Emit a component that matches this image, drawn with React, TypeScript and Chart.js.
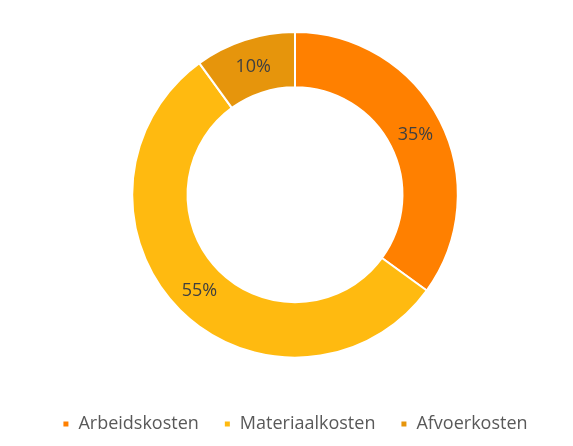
import { useEffect, useRef } from "react";
import { Chart, registerables, Plugin } from "chart.js";

Chart.register(...registerables);

const categories = ["Arbeidskosten", "Materiaalkosten", "Afvoerkosten"];
const shares = [35, 55, 10];
const sliceColors = ["#FF8000", "#FFBA10", "#E6950C"];

const FONT = "'Open Sans', 'Liberation Sans', sans-serif";

// draws "35%" etc. at the middle of each arc
const sliceLabels: Plugin<"doughnut"> = {
  id: "sliceLabels",
  afterDatasetsDraw(chart) {
    const { ctx } = chart;
    const meta = chart.getDatasetMeta(0);
    ctx.save();
    ctx.font = `18px ${FONT}`;
    ctx.fillStyle = "#404040";
    ctx.textAlign = "center";
    ctx.textBaseline = "middle";
    meta.data.forEach((arc, i) => {
      const { x, y } = arc.tooltipPosition(false);
      ctx.fillText(`${shares[i]}%`, x, y + 1);
    });
    ctx.restore();
  },
};

export default function App() {
  const canvasRef = useRef<HTMLCanvasElement>(null);

  useEffect(() => {
    if (!canvasRef.current) return;
    const chart = new Chart(canvasRef.current, {
      type: "doughnut",
      data: {
        labels: categories,
        datasets: [
          {
            data: shares,
            backgroundColor: sliceColors,
            borderColor: "#FFFFFF",
            borderWidth: 2,
          },
        ],
      },
      options: {
        responsive: false,
        animation: false,
        cutout: "66%",
        layout: { padding: { top: 31, left: 17, bottom: 3 } },
        plugins: {
          tooltip: { enabled: false },
          legend: {
            position: "bottom",
            // empty title only adds the gap above the legend row
            title: { display: true, text: "", padding: { top: 0, bottom: 17 } },
            labels: {
              boxWidth: 7,
              boxHeight: 7,
              padding: 25,
              color: "#595959",
              font: { family: FONT, size: 18 },
            },
          },
        },
      },
      plugins: [sliceLabels],
    });
    return () => chart.destroy();
  }, []);

  return (
    <div style={{ position: "absolute", left: 0, top: 0, width: 573, height: 446, background: "#fff" }}>
      <canvas ref={canvasRef} width={573} height={446} />
    </div>
  );
}
